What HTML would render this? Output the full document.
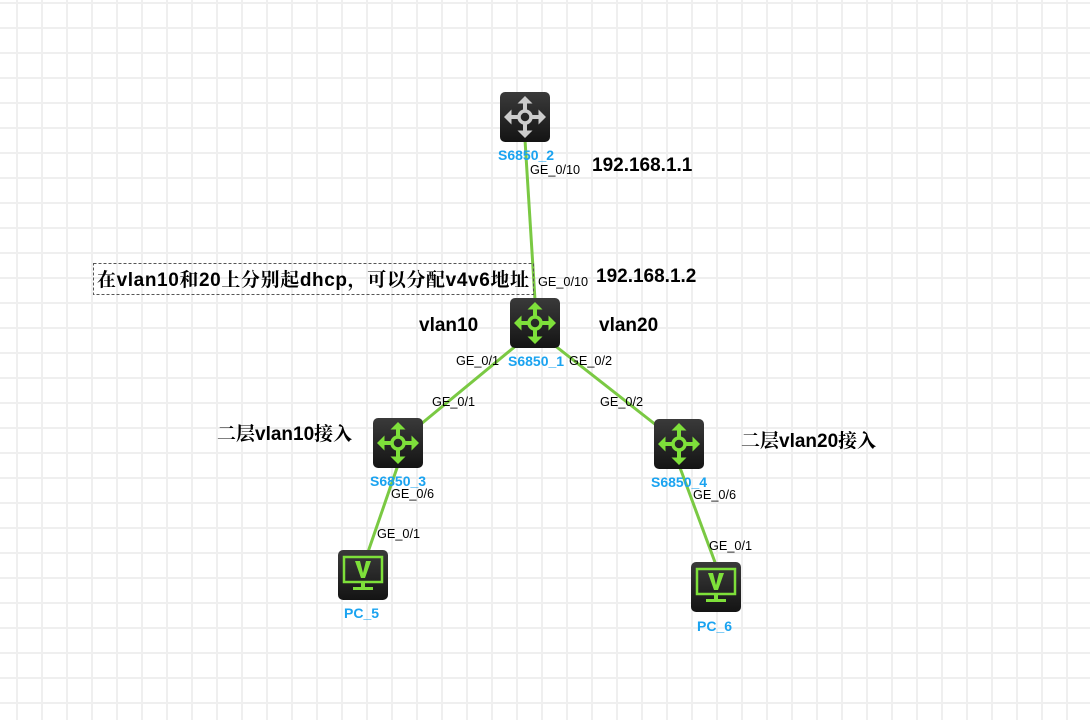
<!DOCTYPE html>
<html><head><meta charset="utf-8"><style>
html,body{margin:0;padding:0;background:#fff;}
svg{display:block;}
.lbl{font-family:"Liberation Sans",sans-serif;font-size:12.7px;fill:#000;}
.dev{font-family:"Liberation Sans",sans-serif;font-size:14px;font-weight:bold;fill:#1aa3f0;}
.big{font-family:"Liberation Sans","Noto Serif CJK SC",sans-serif;font-size:19px;font-weight:bold;fill:#000;}
</style></head><body>
<svg width="1090" height="720" xmlns="http://www.w3.org/2000/svg">
<defs>
<pattern id="g" x="16" y="2" width="25" height="25" patternUnits="userSpaceOnUse">
<path d="M0 1H25M1 0V25" stroke="#efefef" stroke-width="2" fill="none"/>
</pattern>
<linearGradient id="bg" x1="0" y1="0" x2="0" y2="1"><stop offset="0" stop-color="#3a3a3a"/><stop offset="1" stop-color="#141414"/></linearGradient>
<g id="arr">
<circle cx="25" cy="25" r="6" fill="none" stroke-width="3.5"/>
<path d="M25 19V10M25 31V40M19 25H10M31 25H40" stroke-width="4" fill="none"/>
<path d="M25 4l-7.5 7.5h15zM25 46l-7.5-7.5h15zM4 25l7.5-7.5v15zM46 25l-7.5-7.5v15z" stroke="none"/>
</g>
</defs>
<rect width="1090" height="720" fill="url(#g)"/>
<g stroke="#7ac943" stroke-width="3">
<line x1="525" y1="140" x2="535" y2="300"/>
<line x1="535" y1="330" x2="398" y2="443"/>
<line x1="535" y1="330" x2="679" y2="443"/>
<line x1="398" y1="465" x2="368" y2="552"/>
<line x1="679" y1="465" x2="716" y2="565"/>
</g>
<g transform="translate(500,92)"><rect width="50" height="50" rx="5" fill="url(#bg)"/><g fill="#ccc" stroke="#ccc"><use href="#arr"/></g></g>
<g transform="translate(510,298)"><rect width="50" height="50" rx="5" fill="url(#bg)"/><g fill="#7ee03a" stroke="#7ee03a"><use href="#arr"/></g></g>
<g transform="translate(373,418)"><rect width="50" height="50" rx="5" fill="url(#bg)"/><g fill="#7ee03a" stroke="#7ee03a"><use href="#arr"/></g></g>
<g transform="translate(654,419)"><rect width="50" height="50" rx="5" fill="url(#bg)"/><g fill="#7ee03a" stroke="#7ee03a"><use href="#arr"/></g></g>
<g transform="translate(338,550)"><rect width="50" height="50" rx="5" fill="url(#bg)"/>
<rect x="6" y="7" width="38" height="25" fill="none" stroke="#7ee03a" stroke-width="2.5"/>
<path d="M17 11h5l3 12 3-12h5l-6 17h-4z" fill="#7ee03a"/>
<rect x="23" y="33" width="4" height="4" fill="#7ee03a"/><rect x="15" y="37" width="20" height="3" fill="#7ee03a"/></g>
<g transform="translate(691,562)"><rect width="50" height="50" rx="5" fill="url(#bg)"/>
<rect x="6" y="7" width="38" height="25" fill="none" stroke="#7ee03a" stroke-width="2.5"/>
<path d="M17 11h5l3 12 3-12h5l-6 17h-4z" fill="#7ee03a"/>
<rect x="23" y="33" width="4" height="4" fill="#7ee03a"/><rect x="15" y="37" width="20" height="3" fill="#7ee03a"/></g>
<text class="dev" x="498" y="160">S6850_2</text>
<text class="dev" x="508" y="366">S6850_1</text>
<text class="dev" x="370" y="486">S6850_3</text>
<text class="dev" x="651" y="487">S6850_4</text>
<text class="dev" x="344" y="618">PC_5</text>
<text class="dev" x="697" y="631">PC_6</text>
<text class="lbl" x="530" y="174">GE_0/10</text>
<text class="lbl" x="538" y="286">GE_0/10</text>
<text class="lbl" x="456" y="365">GE_0/1</text>
<text class="lbl" x="569" y="365">GE_0/2</text>
<text class="lbl" x="432" y="406">GE_0/1</text>
<text class="lbl" x="600" y="406">GE_0/2</text>
<text class="lbl" x="391" y="498">GE_0/6</text>
<text class="lbl" x="693" y="499">GE_0/6</text>
<text class="lbl" x="377" y="538">GE_0/1</text>
<text class="lbl" x="709" y="550">GE_0/1</text>
<text class="big" x="592" y="171">192.168.1.1</text>
<text class="big" x="596" y="282">192.168.1.2</text>
<text class="big" x="419" y="331">vlan10</text>
<text class="big" x="599" y="331">vlan20</text>
<text class="big" x="217" y="440">二层vlan10接入</text>
<text class="big" x="741" y="447">二层vlan20接入</text>
<rect x="93.5" y="263.5" width="440" height="31" fill="none" stroke="#555" stroke-dasharray="3,2"/>
<text class="big" x="97" y="286" textLength="432" lengthAdjust="spacing">在vlan10和20上分别起dhcp，可以分配v4v6地址</text>
</svg>
</body></html>
